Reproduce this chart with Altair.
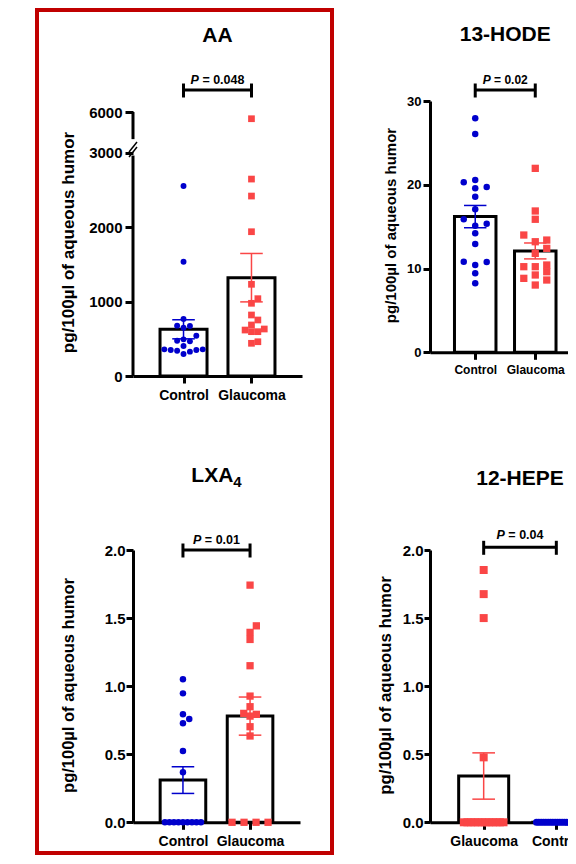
import altair as alt
import numpy as np
import pandas as pd

FONT = "Liberation Sans"
BLUE = "#0000CC"
RED = "#FA4646"
FRAME_RED = "#C00000"
Y_TITLE = "pg/100µl of aqueous humor"

# ---------------- data ----------------
aa_groups = ["Control", "Glaucoma"]
aa_control = [2550, 1534, 765, 676, 671, 649, 541, 492, 474, 465, 403, 358, 358, 349, 349, 340, 327, 295]
aa_glaucoma = [5800, 2644, 2416, 1937, 1231, 1038, 976, 819, 752, 685, 631, 617, 595, 595, 460, 439]
aa_mean = [627, 1320]
aa_sem = [128, 325]
aa_p = "0.048"
aa_ticks = [0, 1000, 2000, 3000, 6000]

hode_groups = ["Control", "Glaucoma"]
hode_control = [27.93, 26.06, 20.57, 20.29, 19.73, 19.58, 18.58, 17.07, 15.88, 15.35, 15.12,
                14.2, 12.93, 10.82, 10.78, 10.42, 9.43, 8.24]
hode_glaucoma = [21.96, 16.87, 15.88, 14.0, 13.4, 13.2, 12.41, 11.81, 10.42, 10.22, 10.22,
                 9.62, 9.23, 8.83, 8.63, 8.03]
hode_mean = [16.2, 12.1]
hode_sem = [1.33, 0.95]
hode_p = "0.02"
hode_ticks = [0, 10, 20, 30]

lxa_groups = ["Control", "Glaucoma"]
lxa_control = [1.05, 0.947, 0.793, 0.758, 0.727, 0.523, 0.367, 0, 0, 0, 0, 0, 0, 0, 0, 0]
lxa_glaucoma = [1.742, 1.443, 1.395, 1.343, 1.15, 0.927, 0.849, 0.80, 0.793, 0.78, 0.702, 0.634,
                0, 0, 0, 0]
lxa_mean = [0.31, 0.78]
lxa_sem = [0.098, 0.14]
lxa_p = "0.01"
lxa_ticks = [0, 0.5, 1.0, 1.5, 2.0]

hepe_groups = ["Glaucoma", "Control"]
hepe_glaucoma = [1.853, 1.676, 1.50, 0.477, 0, 0, 0, 0, 0, 0, 0, 0, 0, 0, 0, 0]
hepe_control = [0] * 18
hepe_mean = [0.34, 0.0]
hepe_sem = [0.17, 0.0]
hepe_p = "0.04"
hepe_ticks = [0, 0.5, 1.0, 1.5, 2.0]

# broken axis of the AA panel: linear up to 3000, compressed segment up to 6000
BREAK_AT = 3000
TOP_VALUE = 6000
TOP_DISPLAY = 3544
TOP_RATE = 0.45


def aa_display(v):
    return v if v <= BREAK_AT else TOP_DISPLAY - (TOP_VALUE - v) * TOP_RATE


XDOM = [-0.67, 1.67]


def swarm(px_vals, col, m, half):
    n = len(px_vals)
    offs = [0.0] * n
    placed = []
    done = set()
    counts = {}
    for v in px_vals:
        counts[v] = counts.get(v, 0) + 1
    for v, k in counts.items():
        if k >= 3:
            ids = [i for i in range(n) if px_vals[i] == v]
            sp = min(2 * col, (2 * half - m) / (k - 1))
            for j, i in enumerate(ids):
                offs[i] = (j - (k - 1) / 2) * sp
                placed.append((offs[i], v))
                done.add(i)
    lim = half - m / 2 + 1
    cands = [0.0]
    j = 1
    while j * col <= lim:
        cands += [j * col, -j * col]
        j += 1
    for i in sorted(range(n), key=lambda t: px_vals[t]):
        if i in done:
            continue
        y = px_vals[i]
        best, fb, fbd = None, 0.0, -1
        for c in cands:
            d = min([np.hypot(c - px, y - py) for px, py in placed], default=1e9)
            if d >= m * 0.92:
                best = c
                break
            if d > fbd:
                fbd, fb = d, c
        if best is None:
            best = fb
        offs[i] = best
        placed.append((best, y))
    return offs


def one(**kw):
    return pd.DataFrame({k: [v] for k, v in kw.items()})


def make_panel(groups, series, means, sems, pval, cfg, transform=lambda v: v):
    w, h, ymax = cfg["w"], cfg["h"], cfg["ymax"]
    step = w / (XDOM[1] - XDOM[0])
    bw = cfg["bw"]
    half_b = bw / 2
    ppu = h / ymax
    XS = alt.Scale(domain=XDOM, nice=False, zero=False)
    YS = alt.Scale(domain=[0, ymax], nice=False, zero=True)

    label_expr = " : ".join(
        [f"datum.value == {i} ? '{g}'" for i, g in enumerate(groups[:-1])] + [f"'{groups[-1]}'"])

    x_axis = alt.Axis(values=[0, 1], labelExpr=label_expr, title=None, grid=False,
                      labelFontSize=cfg["xfs"], labelFontWeight="bold", labelColor="black",
                      labelAngle=0, tickSize=7, tickWidth=3, tickColor="black",
                      domainWidth=3, domainColor="black", labelPadding=5, labelFont=FONT)
    yax = dict(values=cfg["yvals"], title=Y_TITLE, grid=False, format=cfg["fmt"],
               labelFontSize=cfg["yfs"], labelFontWeight="bold", labelColor="black",
               tickSize=cfg["tick"], tickWidth=3, tickColor="black", labelPadding=cfg["lpad"],
               domainWidth=3, domainColor="black", domain=cfg.get("domain", True),
               titleFontSize=cfg["tfs"], titleFontWeight="bold", titleColor="black",
               titleAngle=270, titleX=cfg["tx"], titleY=cfg["ty"], titleAlign="center",
               titleBaseline="middle", labelFont=FONT, titleFont=FONT)
    if "lexpr" in cfg:
        yax["labelExpr"] = cfg["lexpr"]
    y_axis = alt.Axis(**yax)

    bdf = pd.DataFrame({
        "idx": [0, 1], "group": groups,
        "mean": [transform(v) for v in means],
        "lo": [transform(m - s) for m, s in zip(means, sems)],
        "hi": [transform(m + s) for m, s in zip(means, sems)],
        "sem": sems,
    })
    cap = cfg["cap"] / 2 / step
    bdf["cl"] = bdf["idx"] - cap
    bdf["cr"] = bdf["idx"] + cap

    layers = [
        alt.Chart(bdf).mark_bar(size=bw, fill="white", stroke="black", strokeWidth=3).encode(
            x=alt.X("idx:Q", scale=XS, axis=x_axis),
            y=alt.Y("mean:Q", scale=YS, axis=y_axis))
    ]

    for gi, (g, vals) in enumerate(zip(groups, series)):
        disp = [transform(v) for v in vals]
        px = [d * ppu for d in disp]
        m = cfg["mk"]
        offs = swarm(px, cfg["col"], m, half_b)
        pdf = pd.DataFrame({"value": vals, "disp": disp, "xp": [gi + o / step for o in offs]})
        color = BLUE if g == "Control" else RED
        shape = "circle" if g == "Control" else "square"
        size = cfg["csize"] if g == "Control" else cfg["ssize"]
        layers.append(
            alt.Chart(pdf).mark_point(filled=True, shape=shape, size=size, color=color,
                                      opacity=1, strokeWidth=0).encode(
                x=alt.X("xp:Q", scale=XS), y=alt.Y("disp:Q", scale=YS)))

    for gi, g in enumerate(groups):
        color = BLUE if g == "Control" else RED
        sub = bdf[(bdf["idx"] == gi) & (bdf["sem"] > 0)]
        if len(sub) == 0:
            continue
        layers.append(alt.Chart(sub).mark_rule(color=color, strokeWidth=1.5).encode(
            x=alt.X("idx:Q", scale=XS), y=alt.Y("lo:Q", scale=YS), y2="hi:Q"))
        layers.append(alt.Chart(sub).mark_rule(color=color, strokeWidth=1.5).encode(
            x=alt.X("cl:Q", scale=XS), x2="cr:Q", y=alt.Y("hi:Q", scale=YS)))
        layers.append(alt.Chart(sub).mark_rule(color=color, strokeWidth=1.5).encode(
            x=alt.X("cl:Q", scale=XS), x2="cr:Q", y=alt.Y("lo:Q", scale=YS)))

    # significance bracket
    ly = cfg["line_y"]
    layers.append(alt.Chart(one(a=0, b=1)).mark_rule(color="black", strokeWidth=3).encode(
        x=alt.X("a:Q", scale=XS), x2="b:Q", y=alt.value(ly)))
    layers.append(alt.Chart(pd.DataFrame({"a": [0, 1]})).mark_rule(color="black", strokeWidth=3).encode(
        x=alt.X("a:Q", scale=XS), y=alt.value(ly - 6.5), y2=alt.value(ly + 7.5)))
    pfs = cfg["pfs"]
    rest = "= " + pval
    space_w = 0.278 * pfs
    rest_w = (0.584 + 0.278 + 0.278 + 0.556 * (len(pval) - 1)) * pfs
    p_w = 0.667 * pfs
    left = -(rest_w + p_w + space_w) / 2
    layers.append(alt.Chart(one(x=0.5, t="P")).mark_text(
        font=FONT, fontSize=pfs, fontWeight="bold", fontStyle="italic", align="left",
        baseline="alphabetic", dx=left, color="black").encode(
        x=alt.X("x:Q", scale=XS), y=alt.value(cfg["p_y"]), text="t:N"))
    layers.append(alt.Chart(one(x=0.5, t=rest)).mark_text(
        font=FONT, fontSize=pfs, fontWeight="bold", align="left",
        baseline="alphabetic", dx=left + p_w + space_w, color="black").encode(
        x=alt.X("x:Q", scale=XS), y=alt.value(cfg["p_y"]), text="t:N"))

    # panel title
    if cfg.get("sub"):
        main, sub = cfg["title"], cfg["sub"]
        mw = cfg["title_w"]
        sw = 0.556 * cfg["subfs"]
        l0 = -(mw + sw) / 2
        layers.append(alt.Chart(one(t=main)).mark_text(
            font=FONT, fontSize=21, fontWeight="bold", align="left", baseline="alphabetic",
            dx=l0, color="black").encode(x=alt.value(w / 2), y=alt.value(cfg["title_y"]), text="t:N"))
        layers.append(alt.Chart(one(t=sub)).mark_text(
            font=FONT, fontSize=cfg["subfs"], fontWeight="bold", align="left", baseline="alphabetic",
            dx=l0 + mw, color="black").encode(x=alt.value(w / 2), y=alt.value(cfg["title_y"] + 5), text="t:N"))
    else:
        layers.append(alt.Chart(one(t=cfg["title"])).mark_text(
            font=FONT, fontSize=21, fontWeight="bold", align="center", baseline="alphabetic",
            color="black").encode(x=alt.value(w / 2), y=alt.value(cfg["title_y"]), text="t:N"))

    for extra in cfg.get("extra", []):
        layers.append(extra)

    return alt.layer(*layers).properties(width=w, height=h)


# ---------------- AA panel with broken axis and frame ----------------
AA_W, AA_H, AA_YMAX = 169, 275, 3692
aa_ys = alt.Scale(domain=[0, AA_YMAX], nice=False, zero=True)
aa_segments = pd.DataFrame({"y0": [0, 3180], "y1": [2960, TOP_DISPLAY]})
aa_extra = [
    alt.Chart(aa_segments).mark_rule(color="black", strokeWidth=3).encode(
        x=alt.value(0), y=alt.Y("y0:Q", scale=aa_ys), y2="y1:Q"),
    alt.Chart(one(k=1)).mark_rule(color="black", strokeWidth=1.5).encode(
        x=alt.value(-4), x2=alt.value(4), y=alt.value(51), y2=alt.value(41)),
    alt.Chart(one(k=2)).mark_rule(color="black", strokeWidth=1.5).encode(
        x=alt.value(-4), x2=alt.value(4), y=alt.value(56), y2=alt.value(46)),
    alt.Chart(one(k=3)).mark_rect(filled=False, stroke=FRAME_RED, strokeWidth=4).encode(
        x=alt.value(-96), x2=alt.value(199), y=alt.value(-91), y2=alt.value(752)),
]

aa_cfg = dict(w=AA_W, h=AA_H, ymax=AA_YMAX, bw=47, yvals=[aa_display(v) for v in aa_ticks],
              fmt="d", lexpr="datum.value > 3100 ? '6000' : datum.label", domain=False,
              xfs=14, yfs=15, tfs=17, tick=8, lpad=3, tx=-65, ty=141, cap=24,
              col=6.8, mk=6.7, csize=35, ssize=45, line_y=-11, p_y=-17, pfs=12.5,
              title="AA", title_y=-59, extra=aa_extra)
panel_aa = make_panel(aa_groups, [aa_control, aa_glaucoma], aa_mean, aa_sem, aa_p, aa_cfg,
                      transform=aa_display)

hode_cfg = dict(w=150.5, h=251.3, ymax=30, bw=41.5, yvals=hode_ticks, fmt="d",
                xfs=12, yfs=13, tfs=15, tick=7, lpad=2, tx=-40, ty=124, cap=24,
                col=12.3, mk=7.3, csize=42, ssize=53, line_y=-11, p_y=-17, pfs=12,
                title="13-HODE", title_y=-60)
panel_hode = make_panel(hode_groups, [hode_control, hode_glaucoma], hode_mean, hode_sem, hode_p,
                        hode_cfg)

lxa_cfg = dict(w=167, h=272.3, ymax=2, bw=45.6, yvals=lxa_ticks, fmt=".1f",
               xfs=14, yfs=15, tfs=16.5, tick=7, lpad=1, tx=-65, ty=135, cap=24,
               col=6.7, mk=7.3, csize=42, ssize=53, line_y=0, p_y=-6, pfs=12.5,
               title="LXA", sub="4", subfs=15, title_w=(0.611 + 0.667 + 0.722) * 21, title_y=-68)
panel_lxa = make_panel(lxa_groups, [lxa_control, lxa_glaucoma], lxa_mean, lxa_sem, lxa_p, lxa_cfg)

# invisible anchor far to the right: fixes the right extent of the content so the
# negative right padding crops the figure at the page edge
hepe_extra = [
    alt.Chart(one(k=4)).mark_rect(fill="white", opacity=0).encode(
        x=alt.value(299), x2=alt.value(300), y=alt.value(100), y2=alt.value(101)),
]
hepe_cfg = dict(w=180, h=272.3, ymax=2, bw=50, yvals=hepe_ticks, fmt=".1f",
                xfs=14, yfs=15, tfs=16.8, tick=6, lpad=1, tx=-45, ty=135, cap=24,
                col=7, mk=8, csize=50, ssize=64, line_y=-2.7, p_y=-11, pfs=12.5,
                title="12-HEPE", title_y=-65, extra=hepe_extra)
panel_hepe = make_panel(hepe_groups, [hepe_glaucoma, hepe_control], hepe_mean, hepe_sem, hepe_p,
                        hepe_cfg)

chart = alt.concat(
    panel_aa, panel_hode, panel_lxa, panel_hepe,
    columns=2,
    spacing=alt.RowColnumber(row=174, column=128),
    bounds="flush",
).properties(
    padding={"left": 27, "top": 0, "right": -162, "bottom": 0}
).configure(font=FONT).configure_view(strokeWidth=0)

chart.save("out.html", embed_options={"renderer": "svg", "actions": False})
